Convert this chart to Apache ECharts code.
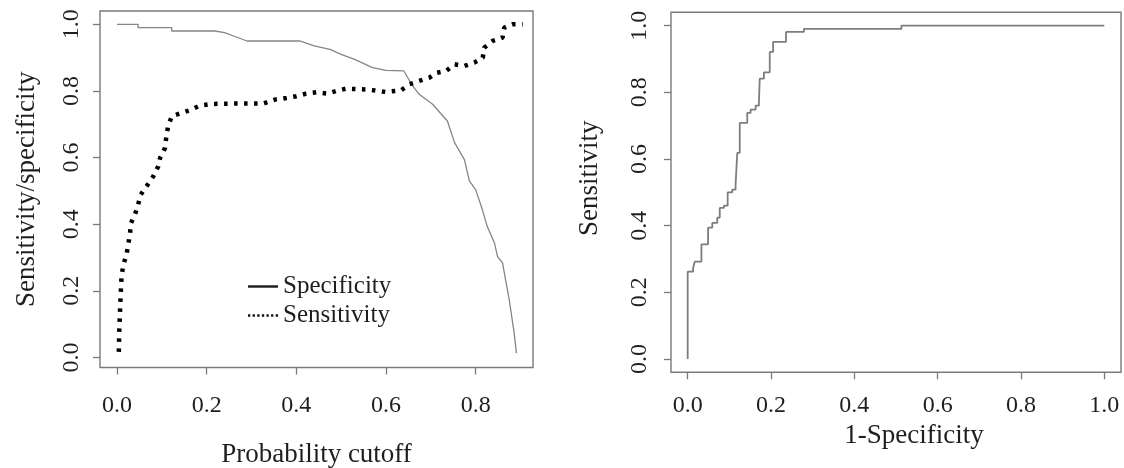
<!DOCTYPE html>
<html>
<head>
<meta charset="utf-8">
<script src="https://cdn.jsdelivr.net/npm/echarts@6/dist/echarts.min.js"></script>
<style>
html,body{margin:0;padding:0;background:#fff;}
#chart{width:1124px;height:468px;}
</style>
</head>
<body>
<div id="chart"></div>
<script>
// ---- data ----
const specCutoff = [0.0,0.047,0.047,0.122,0.122,0.218,0.24,0.26,0.29,0.407,0.44,0.475,0.50,0.53,0.57,0.60,0.64,0.657,0.674,0.704,0.737,0.753,0.775,0.786,0.80,0.815,0.826,0.842,0.849,0.86,0.875,0.886,0.891];
const specValue  = [1.0,1.0,0.99,0.99,0.98,0.98,0.975,0.965,0.95,0.95,0.935,0.925,0.91,0.895,0.87,0.862,0.86,0.82,0.79,0.76,0.71,0.645,0.594,0.53,0.504,0.444,0.393,0.344,0.303,0.284,0.173,0.073,0.013];

const sensCutoff = [0.004,0.005,0.006,0.008,0.010,0.014,0.021,0.025,0.029,0.031,0.040,0.047,0.053,0.066,0.081,0.092,0.096,0.107,0.110,0.114,0.122,0.144,0.166,0.185,0.211,0.26,0.326,0.352,0.378,0.40,0.422,0.445,0.47,0.489,0.511,0.56,0.60,0.634,0.652,0.674,0.697,0.712,0.734,0.753,0.775,0.797,0.816,0.819,0.838,0.86,0.864,0.882,0.905];
const sensValue  = [0.017,0.083,0.118,0.183,0.243,0.278,0.308,0.338,0.373,0.403,0.429,0.459,0.489,0.514,0.544,0.574,0.599,0.629,0.664,0.694,0.724,0.734,0.744,0.756,0.761,0.762,0.762,0.774,0.779,0.784,0.792,0.796,0.792,0.80,0.807,0.804,0.797,0.802,0.82,0.83,0.84,0.854,0.86,0.88,0.875,0.885,0.90,0.93,0.95,0.96,0.99,1.0,1.0];

const rocFpr = [0.0,0.0,0.013,0.017,0.033,0.049,0.059,0.071,0.077,0.087,0.096,0.107,0.115,0.119,0.125,0.143,0.151,0.163,0.171,0.173,0.183,0.197,0.205,0.236,0.279,0.513,1.0];
const rocTpr = [0.0,0.262,0.272,0.292,0.344,0.394,0.408,0.424,0.453,0.46,0.50,0.508,0.523,0.618,0.708,0.738,0.748,0.76,0.77,0.841,0.86,0.921,0.951,0.981,0.99,1.0,1.0];

const xTicksLeft  = [0.0,0.2,0.4,0.6,0.8];
const xTicksRight = [0.0,0.2,0.4,0.6,0.8,1.0];
const yTicks      = [0.0,0.2,0.4,0.6,0.8,1.0];

// ---- chart ----
const FONT = '"Liberation Serif","Times New Roman",serif';
const TXT = '#1e1e1e';
const FRAME = '#7a7a7a';
const zip = (a,b) => a.map((v,i)=>[v,b[i]]);
const fmt = v => Number(v).toFixed(1);

function xAx(grid, min, max, ticks, name, gap, pad, margin){
  return {
    gridIndex: grid, type:'value', min:min, max:max,
    name:name, nameLocation:'middle', nameGap:gap,
    nameTextStyle:{fontFamily:FONT, fontSize:27, color:TXT, padding:pad},
    splitLine:{show:false}, axisLine:{show:false, onZero:false},
    axisTick:{show:true, length:7, customValues:ticks, lineStyle:{color:FRAME, width:1.3}},
    axisLabel:{customValues:ticks, formatter:fmt, fontFamily:FONT, fontSize:24, color:TXT, margin:margin}
  };
}
function yAx(grid, min, max, name, gap, pad, margin){
  return {
    gridIndex: grid, type:'value', min:min, max:max,
    name:name, nameLocation:'middle', nameGap:gap,
    nameTextStyle:{fontFamily:FONT, fontSize:27, color:TXT, padding:pad},
    splitLine:{show:false}, axisLine:{show:false, onZero:false},
    axisTick:{show:true, length:7, customValues:yTicks, lineStyle:{color:FRAME, width:1.3}},
    axisLabel:{customValues:yTicks, formatter:fmt, rotate:90, fontFamily:FONT, fontSize:24, color:TXT, margin:margin}
  };
}

const chart = echarts.init(document.getElementById('chart'), null, {renderer:'canvas'});
chart.setOption({
  animation:false,
  backgroundColor:'#ffffff',
  grid:[
    {left:100, top:11, width:433, height:356.5, show:true, borderColor:FRAME, borderWidth:1.4, backgroundColor:'transparent', outerBoundsMode:'none', containLabel:false},
    {left:671, top:12.3, width:450, height:360, show:true, borderColor:FRAME, borderWidth:1.4, backgroundColor:'transparent', outerBoundsMode:'none', containLabel:false}
  ],
  xAxis:[
    xAx(0, -0.038, 0.928, xTicksLeft, 'Probability cutoff', 74, [0,0,0,0], 26),
    xAx(1, -0.04, 1.04, xTicksRight, '1-Specificity', 50, [0,0,0,36], 21)
  ],
  yAxis:[
    yAx(0, -0.03, 1.04, 'Sensitivity/specificity', 60, [0,0,0,0], 16),
    yAx(1, -0.04, 1.04, 'Sensitivity', 68, [0,0,0,28], 19)
  ],
  legend:{
    orient:'vertical', left:248, top:274, itemGap:4, itemWidth:30, itemHeight:2.5,
    padding:0, selectedMode:false,
    textStyle:{fontFamily:FONT, fontSize:25, color:TXT},
    data:[
      {name:'Specificity', icon:'rect', itemStyle:{color:'#222', borderWidth:0}},
      {name:'Sensitivity', icon:'path://M0 0h2v2H0zM4 0h2v2H4zM8 0h2v2H8zM12 0h2v2h-2zM16 0h2v2h-2zM20 0h2v2h-2zM24 0h2v2h-2z', itemStyle:{color:'#111', borderWidth:0}}
    ]
  },
  series:[
    {name:'Specificity', type:'line', xAxisIndex:0, yAxisIndex:0, data:zip(specCutoff,specValue),
     symbol:'none', lineStyle:{color:'#858585', width:1.3}, itemStyle:{color:'#222'}},
    {name:'Sensitivity', type:'line', xAxisIndex:0, yAxisIndex:0, data:zip(sensCutoff,sensValue),
     symbol:'none', lineStyle:{color:'#000', width:4.5, type:[3.5,6.5], cap:'butt'}, itemStyle:{color:'#000'}},
    {name:'ROC', type:'line', xAxisIndex:1, yAxisIndex:1, data:zip(rocFpr,rocTpr), step:'end',
     symbol:'none', lineStyle:{color:'#7d7d7d', width:1.8}}
  ]
});
</script>
</body>
</html>
